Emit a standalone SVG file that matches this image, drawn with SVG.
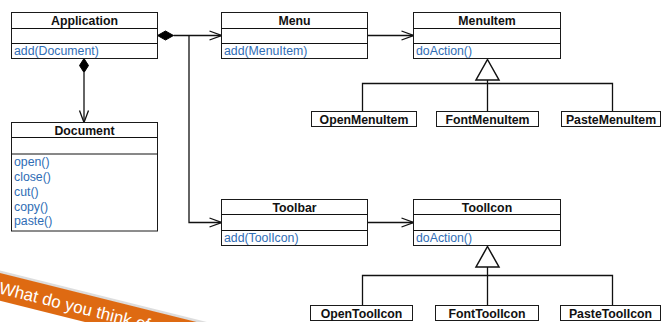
<svg xmlns="http://www.w3.org/2000/svg" width="662" height="322" viewBox="0 0 662 322">
<style>
.box{fill:#fff;stroke:#1a1a1a;stroke-width:1}
.ln{fill:none;stroke:#111;stroke-width:1}
.t{font-family:"Liberation Sans",Arial,sans-serif;font-size:12.3px;font-weight:bold;fill:#111;text-anchor:middle}
.m{font-family:"Liberation Sans",Arial,sans-serif;font-size:12.3px;fill:#2f6db5}
.c{stroke:#111;stroke-width:1.3;fill:none}
.dia{fill:#000;stroke:#000;stroke-width:1}
.tri{fill:#fff;stroke:#111;stroke-width:1.5}
.ban{font-family:"Liberation Sans",Arial,sans-serif;font-size:17px;fill:#fff}
</style>
<defs>
<marker id="open" markerWidth="14" markerHeight="12" refX="13" refY="6" orient="auto" markerUnits="userSpaceOnUse">
<path d="M1,1.5 L13,6 L1,10.5" fill="none" stroke="#111" stroke-width="1.3"/>
</marker>
</defs>

<g id="connectors">
<polygon class="dia" points="157.5,35.5 165.5,31 173.5,35.5 165.5,40"/>
<path class="c" d="M173.5,35.5 H221.5" marker-end="url(#open)"/>
<path class="c" d="M189,35.5 V222.5 H221.5" marker-end="url(#open)"/>
<polygon class="dia" points="84,58.5 88.5,65.5 84,72.5 79.5,65.5"/>
<path class="c" d="M84,72.5 V122.5" marker-end="url(#open)"/>
<path class="c" d="M367.5,35.5 H413.5" marker-end="url(#open)"/>
<path class="c" d="M367.5,222.5 H413.5" marker-end="url(#open)"/>
<path class="c" d="M487.5,80 V111.5 M362.5,111.5 V83.5 H612.5 V111.5"/>
<polygon class="tri" points="487.5,59.5 499,80 476,80"/>
<path class="c" d="M487.5,267 V305.5 M362.5,305.5 V275.5 H612.5 V305.5"/>
<polygon class="tri" points="487.5,246.5 499,267 476,267"/>
</g>

<g id="Application">
<rect class="box" x="11.5" y="12.5" width="146" height="46"/>
<path class="ln" d="M11.5,28.5 H157.5 M11.5,43.5 H157.5"/>
<text class="t" x="84.5" y="24.5">Application</text>
<text class="m" x="14" y="55">add(Document)</text>
</g>

<g id="Document">
<rect class="box" x="11.5" y="122.5" width="146" height="108.5"/>
<path class="ln" d="M11.5,137.5 H157.5 M11.5,154 H157.5"/>
<text class="t" x="84.5" y="134.5">Document</text>
<text class="m" x="14" y="166">open()</text>
<text class="m" x="14" y="181">close()</text>
<text class="m" x="14" y="196">cut()</text>
<text class="m" x="14" y="210.5">copy()</text>
<text class="m" x="14" y="225">paste()</text>
</g>

<g id="Menu">
<rect class="box" x="221.5" y="12.5" width="146" height="46"/>
<path class="ln" d="M221.5,28.5 H367.5 M221.5,43.5 H367.5"/>
<text class="t" x="294.5" y="24.5">Menu</text>
<text class="m" x="224" y="55">add(MenuItem)</text>
</g>

<g id="MenuItem">
<rect class="box" x="413.5" y="12.5" width="147" height="46"/>
<path class="ln" d="M413.5,28.5 H560.5 M413.5,43.5 H560.5"/>
<text class="t" x="487" y="24.5">MenuItem</text>
<text class="m" x="416" y="55">doAction()</text>
</g>

<g id="OpenMenuItem">
<rect class="box" x="311.5" y="111.5" width="105" height="15"/>
<text class="t" x="364" y="123.5">OpenMenuItem</text>
</g>
<g id="FontMenuItem">
<rect class="box" x="436.5" y="111.5" width="102" height="15"/>
<text class="t" x="487.5" y="123.5">FontMenuItem</text>
</g>
<g id="PasteMenuItem">
<rect class="box" x="561.5" y="111.5" width="99" height="15"/>
<text class="t" x="611" y="123.5">PasteMenuItem</text>
</g>

<g id="Toolbar">
<rect class="box" x="221.5" y="199.5" width="146" height="46"/>
<path class="ln" d="M221.5,214.5 H367.5 M221.5,230.5 H367.5"/>
<text class="t" x="294.5" y="211.5">Toolbar</text>
<text class="m" x="224" y="242">add(ToolIcon)</text>
</g>

<g id="ToolIcon">
<rect class="box" x="413.5" y="199.5" width="147" height="46"/>
<path class="ln" d="M413.5,214.5 H560.5 M413.5,230.5 H560.5"/>
<text class="t" x="487" y="211.5">ToolIcon</text>
<text class="m" x="416" y="242">doAction()</text>
</g>

<g id="OpenToolIcon">
<rect class="box" x="310.5" y="305.5" width="102" height="15"/>
<text class="t" x="361.5" y="317.5">OpenToolIcon</text>
</g>
<g id="FontToolIcon">
<rect class="box" x="435.5" y="305.5" width="103" height="15"/>
<text class="t" x="487" y="317.5">FontToolIcon</text>
</g>
<g id="PasteToolIcon">
<rect class="box" x="560.5" y="305.5" width="100" height="15"/>
<text class="t" x="610.5" y="317.5">PasteToolIcon</text>
</g>

<g id="banner" transform="translate(0,273) rotate(14)">
<rect x="-40" y="-2.5" width="400" height="3" fill="#bbb" opacity="0.5"/>
<rect x="-40" y="0" width="400" height="27" fill="#de6a12"/>
<text class="ban" x="3" y="20">What do you think of</text>
</g>
</svg>
